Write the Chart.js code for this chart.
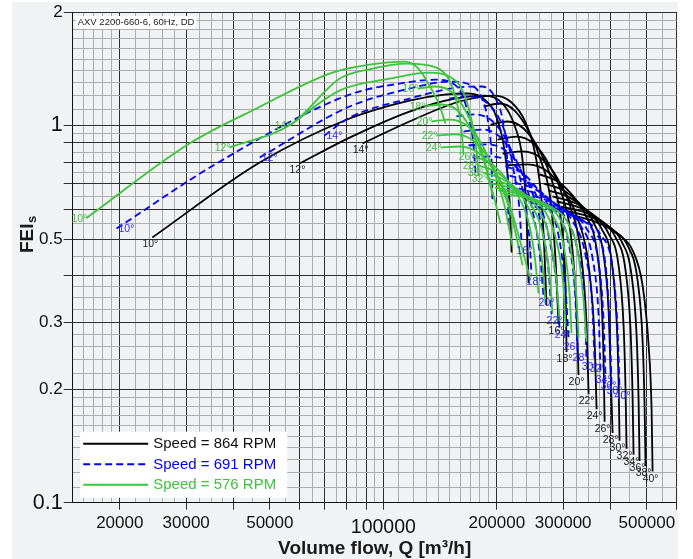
<!DOCTYPE html>
<html>
<head>
<meta charset="utf-8">
<script src="https://cdn.jsdelivr.net/npm/chart.js@4.4.1/dist/chart.umd.min.js"></script>
<style>
  html, body { margin: 0; padding: 0; background: #fff; }
  #wrap { width: 693px; height: 559px; }
</style>
</head>
<body>
<div id="wrap"><canvas id="chart" width="693" height="559"></canvas></div>
<script>
// blade angles, one curve per angle and speed
const angles = [10, 12, 14, 16, 18, 20, 22, 24, 26, 28, 30, 32, 34, 36, 38, 40];

// 576 RPM: volume flow [m3/h] and FEIs, one row per blade angle
const q576 = [
  [16300, 30600, 46100, 73300, 91900, 113800, 123200, 132600, 140900, 146200],
  [39100, 57400, 76500, 93600, 115200, 138400, 149800, 157300, 161300, 163200],
  [56400, 76500, 103900, 132600, 149800, 163200, 171400, 176700, 178900],
  [123200, 136700, 149800, 162200, 174600, 185600, 194800],
  [128600, 142600, 157300, 171400, 184500, 196000, 204500],
  [134200, 149800, 165300, 180000, 196000, 209600, 220200],
  [138400, 154500, 171400, 187900, 203300, 220200, 234100],
  [141800, 159300, 177800, 194800, 210900, 228400, 245700],
  [173500, 191300, 208300, 225600, 241300, 251800, 258000],
  [177800, 198500, 217500, 236900, 253300, 264400, 269300],
  [183300, 205800, 227000, 247200, 264400, 276000, 281100],
  [187900, 213500, 236900, 258000, 276000, 288100, 293400],
  [192500, 220200, 245700, 269300, 288100, 300700, 304400],
  [197300, 228400, 256400, 281100, 300700, 311800, 315600],
  [202100, 236900, 267700, 293400, 313700, 325400, 329400],
  [207100, 245700, 279400, 306200, 327400, 339700, 346000]
];
const fei576 = [
  [0.568, 0.896, 1.110, 1.381, 1.450, 1.477, 1.424, 1.277, 1.130, 1.012],
  [0.875, 1.012, 1.331, 1.415, 1.459, 1.424, 1.316, 1.130, 0.970, 0.838],
  [1.000, 1.238, 1.331, 1.381, 1.348, 1.223, 1.031, 0.859, 0.733],
  [1.253, 1.269, 1.238, 1.130, 0.970, 0.808, 0.653],
  [1.123, 1.137, 1.096, 0.970, 0.808, 0.653, 0.550],
  [1.025, 1.037, 1.006, 0.913, 0.760, 0.614, 0.478],
  [0.941, 0.947, 0.918, 0.833, 0.715, 0.560, 0.426],
  [0.875, 0.880, 0.849, 0.770, 0.665, 0.511, 0.389],
  [0.828, 0.798, 0.737, 0.661, 0.568, 0.453, 0.359],
  [0.784, 0.755, 0.702, 0.633, 0.540, 0.426, 0.336],
  [0.751, 0.724, 0.677, 0.614, 0.521, 0.401, 0.318],
  [0.724, 0.698, 0.657, 0.599, 0.505, 0.384, 0.303],
  [0.702, 0.681, 0.641, 0.589, 0.493, 0.370, 0.292],
  [0.685, 0.665, 0.629, 0.578, 0.481, 0.359, 0.282],
  [0.673, 0.653, 0.618, 0.568, 0.472, 0.351, 0.273],
  [0.661, 0.641, 0.607, 0.560, 0.467, 0.344, 0.267]
];

// 691 RPM
const q691 = [
  [19600, 36100, 81400, 110400, 138400, 151600, 162200, 169300, 173500, 175600],
  [47000, 81400, 117300, 149800, 169300, 182200, 190200, 193700, 194800],
  [69800, 81400, 117300, 157300, 182200, 198500, 208300, 213500, 214800],
  [149800, 167300, 184500, 200900, 213500, 222900, 229800, 232600],
  [156300, 174600, 193700, 210900, 225600, 236900, 244200, 247200],
  [163200, 183300, 203300, 221600, 238400, 251800, 261200, 266000],
  [168300, 189000, 210900, 231200, 248700, 264400, 274300, 279400],
  [172400, 194800, 218900, 241300, 259600, 276000, 288100, 293400],
  [210900, 232600, 253300, 274300, 291600, 304400, 310000],
  [216200, 241300, 266000, 289800, 310000, 323500, 327400],
  [222900, 250300, 277700, 304400, 327400, 341800, 346000],
  [228400, 258000, 289800, 319500, 343900, 358900, 363400],
  [234100, 267700, 302500, 333500, 358900, 372300, 376900],
  [241300, 276000, 313700, 346000, 372300, 383900, 388600],
  [245700, 286300, 327400, 361100, 388600, 398200, 403100],
  [251800, 297000, 341800, 376900, 405600, 418200, 423200]
];
const fei691 = [
  [0.533, 0.793, 1.208, 1.292, 1.323, 1.300, 1.201, 1.031, 0.886, 0.751],
  [0.823, 1.123, 1.253, 1.308, 1.284, 1.186, 1.000, 0.808, 0.622],
  [0.941, 1.050, 1.179, 1.261, 1.269, 1.179, 1.000, 0.760, 0.543],
  [1.179, 1.194, 1.165, 1.063, 0.913, 0.737, 0.596, 0.487],
  [1.057, 1.070, 1.031, 0.924, 0.784, 0.633, 0.496, 0.403],
  [0.964, 0.976, 0.935, 0.833, 0.702, 0.560, 0.439, 0.353],
  [0.886, 0.891, 0.859, 0.770, 0.661, 0.527, 0.413, 0.316],
  [0.823, 0.828, 0.793, 0.715, 0.622, 0.496, 0.377, 0.290],
  [0.779, 0.751, 0.689, 0.610, 0.511, 0.366, 0.270],
  [0.737, 0.711, 0.657, 0.585, 0.487, 0.344, 0.252],
  [0.706, 0.681, 0.633, 0.568, 0.467, 0.334, 0.239],
  [0.681, 0.657, 0.614, 0.553, 0.453, 0.324, 0.236],
  [0.661, 0.637, 0.599, 0.543, 0.445, 0.314, 0.221],
  [0.641, 0.618, 0.585, 0.533, 0.434, 0.305, 0.213],
  [0.625, 0.603, 0.571, 0.524, 0.426, 0.296, 0.206],
  [0.610, 0.589, 0.557, 0.514, 0.418, 0.287, 0.200]
];

// 864 RPM
const q864 = [
  [24400, 47000, 81400, 117300, 145300, 167300, 185600, 199700, 209600, 216200, 218900],
  [59900, 81400, 117300, 154500, 185600, 207100, 222900, 234100, 239800, 242800],
  [88100, 117300, 159300, 197300, 218900, 238400, 253300, 262800, 267700, 270900],
  [184500, 203300, 222900, 244200, 262800, 277700, 286300, 291600],
  [192500, 213500, 235500, 259600, 281100, 297000, 304400, 306200],
  [200900, 225600, 250300, 276000, 298800, 315600, 325400, 329400],
  [207100, 234100, 262800, 289800, 313700, 333500, 346000, 350300],
  [212200, 241300, 272600, 300700, 327400, 350300, 363400, 367800],
  [259600, 289800, 317600, 343900, 367800, 379200, 383900, 386300],
  [266000, 300700, 331500, 361100, 383900, 395800, 400600, 405600],
  [274300, 311800, 346000, 379200, 403100, 415600, 420700, 423200],
  [281100, 323500, 361100, 395800, 420700, 433700, 439000, 441700],
  [288100, 335600, 376900, 413100, 439000, 452600, 458200, 461000],
  [295200, 348100, 393400, 428400, 455400, 469600, 475400, 478200],
  [302500, 361100, 408100, 444400, 472400, 487100, 493100, 496100],
  [310000, 374600, 423200, 458200, 487100, 505300, 514700, 517800]
];
const fei864 = [
  [0.505, 0.798, 1.044, 1.165, 1.208, 1.216, 1.172, 1.050, 0.859, 0.633, 0.461],
  [0.793, 0.929, 1.089, 1.179, 1.201, 1.144, 1.000, 0.808, 0.578, 0.382],
  [0.896, 1.025, 1.158, 1.201, 1.151, 1.019, 0.833, 0.633, 0.453, 0.334],
  [1.123, 1.144, 1.096, 0.958, 0.798, 0.633, 0.439, 0.298],
  [1.006, 1.025, 0.982, 0.859, 0.706, 0.543, 0.366, 0.251],
  [0.918, 0.935, 0.896, 0.784, 0.649, 0.496, 0.324, 0.218],
  [0.843, 0.854, 0.818, 0.724, 0.607, 0.467, 0.296, 0.194],
  [0.784, 0.789, 0.755, 0.673, 0.568, 0.426, 0.270, 0.177],
  [0.742, 0.711, 0.653, 0.578, 0.472, 0.344, 0.239, 0.164],
  [0.702, 0.673, 0.622, 0.553, 0.453, 0.324, 0.225, 0.153],
  [0.673, 0.645, 0.596, 0.533, 0.439, 0.305, 0.211, 0.146],
  [0.649, 0.622, 0.578, 0.517, 0.426, 0.296, 0.199, 0.139],
  [0.629, 0.603, 0.560, 0.505, 0.413, 0.287, 0.193, 0.134],
  [0.610, 0.585, 0.543, 0.493, 0.401, 0.278, 0.187, 0.129],
  [0.596, 0.568, 0.527, 0.481, 0.389, 0.270, 0.181, 0.125],
  [0.582, 0.550, 0.511, 0.467, 0.377, 0.262, 0.176, 0.121]
];

// which curves carry an angle label, at the start or at the end of the curve
const startLabels576 = [10, 12, 14, 16, 18, 20, 22, 24, 26, 28, 30, 32];
const startLabels691 = [10, 12, 14];
const endLabels691 = [16, 18, 20, 22, 24, 26, 28, 30, 32, 34, 36, 38, 40];
const startLabels864 = [10, 12, 14];
const endLabels864 = [16, 18, 20, 22, 24, 26, 28, 30, 32, 34, 36, 38, 40];

const xTickLabels = [20000, 30000, 50000, 100000, 200000, 300000, 500000];
const yTickLabels = [0.1, 0.2, 0.3, 0.5, 1, 2];
const chartNote = 'AXV 2200-660-6, 60Hz, DD';

const FONT = '"Liberation Sans", Arial, sans-serif';

const families = [
  { rpm: 576, q: q576, fei: fei576, color: '#3cc43c', text: '#45bd45', dash: [], start: startLabels576, end: [] },
  { rpm: 691, q: q691, fei: fei691, color: '#0000ff', text: '#2a2aff', dash: [7, 4], start: startLabels691, end: endLabels691 },
  { rpm: 864, q: q864, fei: fei864, color: '#000000', text: '#1c1c1c', dash: [], start: startLabels864, end: endLabels864 }
];

// grid lines: whole multiples are major, the gaps between them are split
// finer where the log axis leaves more room (1-2: tenths, 2-3: fifths, 3-4: quarters, else halves)
function gridValues(lo, hi) {
  const out = [];
  let p = Math.pow(10, Math.floor(Math.log10(lo) + 1e-9));
  while (p <= hi * (1 + 1e-9)) {
    for (let k = 1; k <= 9; k++) {
      const n = k === 1 ? 10 : k === 2 ? 5 : k === 3 ? 4 : 2;
      for (let j = 0; j < n; j++) {
        const v = Math.round((k + j / n) * p * 1e6) / 1e6;
        if (v >= lo * (1 - 1e-9) && v <= hi * (1 + 1e-9)) out.push(v);
      }
    }
    p *= 10;
  }
  if (out[out.length - 1] < hi * (1 - 1e-9)) out.push(hi);
  return out;
}
function isMajor(v) {
  const m = v / Math.pow(10, Math.floor(Math.log10(v) + 1e-9));
  return Math.abs(m - Math.round(m)) < 1e-6;
}
function isDecade(v) {
  const l = Math.log10(v);
  return Math.abs(l - Math.round(l)) < 1e-9;
}
function inList(v, list) {
  return list.some(l => Math.abs(v - l) / l < 1e-6);
}

const xGrid = gridValues(15000, 600000);
const yGrid = gridValues(0.1, 2);

const datasets = [];
families.forEach(f => {
  angles.forEach((a, i) => {
    let lab = null;
    if (f.start.includes(a)) lab = { pos: 'start', text: a + '\u00b0' };
    if (f.end.includes(a)) lab = { pos: 'end', text: a + '\u00b0' };
    datasets.push({
      label: f.rpm + ' RPM ' + a,
      data: f.q[i].map((q, j) => ({ x: q, y: f.fei[i][j] })),
      borderColor: f.color,
      borderWidth: 1.8,
      borderDash: f.dash,
      pointRadius: 0,
      fill: false,
      cubicInterpolationMode: 'monotone',
      rpm: f.rpm,
      textColor: f.text,
      curveLabel: lab
    });
  });
});

const bgPanel = {
  id: 'bgPanel',
  beforeDraw(chart) {
    const ctx = chart.ctx;
    ctx.save();
    ctx.fillStyle = '#ffffff';
    ctx.fillRect(0, 0, chart.width, chart.height);
    ctx.fillStyle = '#f1f2f4';
    ctx.fillRect(12, 2, 666, 557);
    ctx.restore();
  }
};

const curveLabels = {
  id: 'curveLabels',
  afterDatasetsDraw(chart) {
    const ctx = chart.ctx;
    ctx.save();
    ctx.font = '10.5px ' + FONT;
    chart.data.datasets.forEach((ds, i) => {
      const lab = ds.curveLabel;
      if (!lab) return;
      const pts = chart.getDatasetMeta(i).data;
      const p = lab.pos === 'start' ? pts[0] : pts[pts.length - 1];
      ctx.fillStyle = ds.textColor;
      let x = p.x, y = p.y;
      if (ds.rpm === 576) {
        ctx.textAlign = 'right'; ctx.textBaseline = 'middle'; x += 1; y += 1;
      } else if (ds.rpm === 691 && lab.pos === 'start') {
        ctx.textAlign = 'left'; ctx.textBaseline = 'middle'; x += 2; y += 1;
      } else if (ds.rpm === 691) {
        ctx.textAlign = 'center'; ctx.textBaseline = 'top'; x += 3; y += 2;
      } else if (lab.pos === 'start') {
        ctx.textAlign = 'center'; ctx.textBaseline = 'top'; x -= 2; y += 1;
      } else {
        ctx.textAlign = 'center'; ctx.textBaseline = 'top'; x -= 2; y += 2;
      }
      ctx.fillText(lab.text, x, y);
    });
    ctx.restore();
  }
};

const decorations = {
  id: 'decorations',
  afterDraw(chart) {
    const ctx = chart.ctx;
    const a = chart.chartArea;
    ctx.save();

    // note in the upper left corner
    ctx.font = '9.5px ' + FONT;
    const w = ctx.measureText(chartNote).width;
    ctx.fillStyle = '#ffffff';
    ctx.fillRect(a.left + 3, a.top + 4, w + 4, 13);
    ctx.fillStyle = '#222';
    ctx.textAlign = 'left';
    ctx.textBaseline = 'middle';
    ctx.fillText(chartNote, a.left + 5, a.top + 10.5);

    // legend box
    const lx = a.left + 7.5, ly = a.bottom - 71;
    ctx.fillStyle = '#ffffff';
    ctx.fillRect(lx, ly, 207, 66);
    [864, 691, 576].forEach((rpm, i) => {
      const f = families.find(ff => ff.rpm === rpm);
      const y = ly + 12 + i * 20.5;
      ctx.strokeStyle = f.color;
      ctx.lineWidth = 2;
      ctx.setLineDash(f.dash);
      ctx.beginPath();
      ctx.moveTo(lx + 3, y);
      ctx.lineTo(lx + 68, y);
      ctx.stroke();
      ctx.setLineDash([]);
      ctx.fillStyle = rpm === 864 ? '#111' : f.color;
      ctx.font = '15px ' + FONT;
      ctx.textAlign = 'left';
      ctx.textBaseline = 'middle';
      ctx.fillText('Speed = ' + rpm + ' RPM', lx + 73, y + 0.5);
    });

    // axis titles
    ctx.fillStyle = '#1a1a1a';
    ctx.font = 'bold 19px ' + FONT;
    ctx.textAlign = 'center';
    ctx.textBaseline = 'alphabetic';
    ctx.fillText('Volume flow, Q [m\u00b3/h]', (a.left + a.right) / 2, 554);

    ctx.translate(33, 253);
    ctx.rotate(-Math.PI / 2);
    ctx.textAlign = 'left';
    ctx.font = 'bold 19px ' + FONT;
    ctx.fillText('FEI', 0, 0);
    const fw = ctx.measureText('FEI').width;
    ctx.font = 'bold 13px ' + FONT;
    ctx.fillText('s', fw + 0.5, 3);
    ctx.restore();
  }
};

const gridColor = c => (c.tick && isMajor(c.tick.value)) ? '#2e2e2e' : '#adadad';
const tickColor = c => (c.tick && isMajor(c.tick.value)) ? '#2e2e2e' : 'rgba(0,0,0,0)';

new Chart(document.getElementById('chart'), {
  type: 'line',
  data: { datasets: datasets },
  plugins: [bgPanel, curveLabels, decorations],
  options: {
    responsive: false,
    animation: false,
    devicePixelRatio: 1,
    layout: { padding: { left: 0, right: 16.3, top: 12, bottom: 0 } },
    plugins: { legend: { display: false }, tooltip: { enabled: false } },
    elements: { line: { tension: 0 } },
    scales: {
      x: {
        type: 'logarithmic',
        min: 15000,
        max: 600000,
        afterBuildTicks: s => { s.ticks = xGrid.map(v => ({ value: v })); },
        afterFit: s => { s.height = 56.3; },
        grid: { color: gridColor, tickColor: tickColor, lineWidth: 1, tickLength: 7 },
        border: { display: true, color: '#111', width: 1 },
        ticks: {
          autoSkip: false,
          maxRotation: 0,
          minRotation: 0,
          padding: 3,
          color: '#111',
          font: c => (c.tick && isDecade(c.tick.value))
            ? { family: FONT, size: 19.5, lineHeight: 1.55 }
            : { family: FONT, size: 17 },
          callback: v => inList(v, xTickLabels) ? String(v) : ''
        }
      },
      y: {
        type: 'logarithmic',
        min: 0.1,
        max: 2,
        afterBuildTicks: s => { s.ticks = yGrid.map(v => ({ value: v })); },
        afterFit: s => { s.width = 72.7; },
        grid: { color: gridColor, tickColor: tickColor, lineWidth: 1, tickLength: 9 },
        border: { display: true, color: '#111', width: 1 },
        ticks: {
          autoSkip: false,
          padding: 1,
          color: '#111',
          font: c => ({ family: FONT, size: (c.tick && isDecade(c.tick.value)) ? 21.5 : 17 }),
          callback: v => inList(v, yTickLabels) ? String(v) : ''
        }
      }
    }
  }
});
</script>
</body>
</html>
